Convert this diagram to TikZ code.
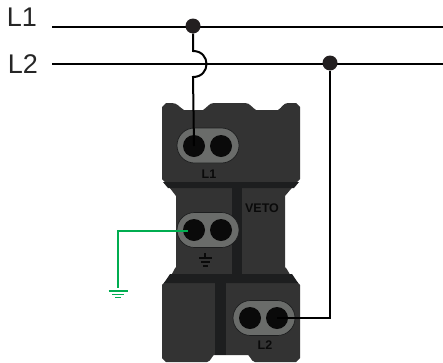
\documentclass[tikz,border=0pt]{standalone}
\usepackage{fontspec}
\setmainfont{Liberation Sans}
\definecolor{bodygray}{HTML}{333333}
\definecolor{bandgray}{HTML}{1D1E1F}
\definecolor{capgray}{HTML}{6A6C6A}
\definecolor{holeblack}{HTML}{0A0A0A}
\definecolor{dotblack}{HTML}{231F20}
\definecolor{earthgreen}{HTML}{00AD50}
\tikzset{
	wire/.style={line width=2pt,black},
	greenwire/.style={line width=2pt,earthgreen},
	junction/.style={circle,fill=dotblack,inner sep=0pt,minimum size=15pt},
	hole/.style={circle,fill=holeblack,inner sep=0pt,minimum size=22pt},
	capsule/.style={rounded rectangle,draw=bandgray,line width=0.7pt,fill=capgray,inner sep=0pt,minimum width=62pt,minimum height=35pt},
	linelabel/.style={font=\fontsize{27}{27}\selectfont,text=black!85,inner sep=0pt},
	bodylabel/.style={font=\fontsize{12.5}{13}\selectfont\bfseries,text=holeblack,inner sep=0pt},
	earthbar/.style={holeblack,line width=1.2pt},
	greenbar/.style={earthgreen,line width=1.8pt},
}
\usetikzlibrary{shapes.misc}
\begin{document}
\begin{tikzpicture}[x=1pt,y=-1pt]
	\useasboundingbox (0,0) rectangle (443,362);
	\fill [bodygray] (166,103) -- (172,103) to[out=0,in=150] (184,110) -- (203,110) to[out=30,in=180] (214,103) -- (245,103) to[out=0,in=150] (256,110) -- (278,110) to[out=30,in=180] (288,103) -- (296,103) -- (300,107) -- (300,179) -- (296,183) -- (285,196) -- (285,268) to[out=90,in=-90] (292,276) -- (300,285) -- (300,358) -- (296,362) -- (255,362) to[out=180,in=30] (246,355) -- (216,355) to[out=150,in=0] (207,362) -- (166,362) -- (162,358) -- (162,285) -- (170,276) to[out=-90,in=90] (176,268) -- (176,196) -- (166,183) -- (162,179) -- (162,107) -- cycle;
	\fill [bandgray] (163,182) -- (299,182) -- (294,188) -- (168,188) -- cycle;
	\fill [bandgray] (232,188) rectangle (242,274);
	\fill [bandgray] (170,274) -- (292,274) -- (298,283) -- (164,283) -- cycle;
	\fill [bandgray] (215,283) rectangle (226,355);
	\node [capsule] (capA) at (208,145.500) {};
	\node [capsule] (capE) at (208,230) {};
	\node [capsule] (capB) at (264,318) {};
	\node [hole] (holeAa) at (194,146) {};
	\node [hole] (holeAb) at (221,146) {};
	\node [hole] (holeEa) at (194,230) {};
	\node [hole] (holeEb) at (221,230) {};
	\node [hole] (holeBa) at (250,318) {};
	\node [hole] (holeBb) at (277,318) {};
	\node [bodylabel] (textA) at (209,174) {L1};
	\node [bodylabel] (textB) at (265,345.500) {L2};
	\node [bodylabel] (textV) at (262,208) {VETO};
	\draw [earthbar] (205,253) -- (205,258);
	\draw [earthbar] (199,258) -- (212,258);
	\draw [earthbar] (201,262) -- (210,262);
	\draw [earthbar] (203,266) -- (208,266);
	\node [linelabel] (labA) at (22,17.500) {L1};
	\node [linelabel] (labB) at (23,64.500) {L2};
	\coordinate (startA) at (52,27);
	\coordinate (endA) at (443,27);
	\coordinate (startB) at (52,64);
	\coordinate (endB) at (443,64);
	\draw [line width=1.2pt] (startA) -- (endA);
	\draw [line width=1.2pt] (startB) -- (endB);
	\node [junction] (dotA) at (193,26) {};
	\node [junction] (dotB) at (330,63) {};
	\coordinate (jumpA) at (193,51);
	\coordinate (jumpB) at (193,77);
	\draw [wire] (dotA) -- (jumpA) .. controls (211,51) and (211,77) .. (jumpB) -- (holeAa.center);
	\draw [wire] (dotB) |- (holeBb.center);
	\coordinate (earth) at (118,288);
	\coordinate (endE) at (188,231);
	\draw [greenwire] (endE) -| (earth);
	\draw [greenbar] (108.500,291) -- (127.500,291);
	\draw [greenbar] (112,294.500) -- (124,294.500);
	\draw [greenbar] (115,297.500) -- (121,297.500);
\end{tikzpicture}
\end{document}
